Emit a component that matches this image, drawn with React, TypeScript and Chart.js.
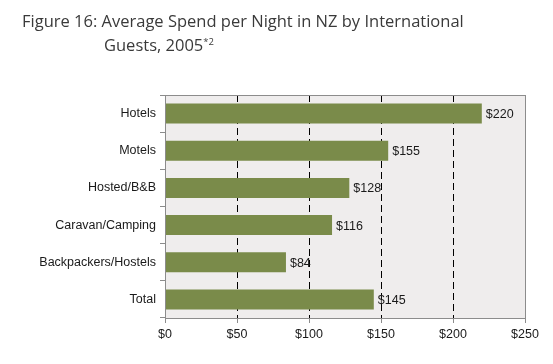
import React, { useEffect, useRef } from "react";
import { Chart, registerables } from "chart.js";

Chart.register(...registerables);

const categories = ["Hotels", "Motels", "Hosted/B&B", "Caravan/Camping", "Backpackers/Hostels", "Total"];
const spend = [220, 155, 128, 116, 84, 145];
const xTicks = [0, 50, 100, 150, 200, 250];

const titleLine1 = "Figure 16: Average Spend per Night in NZ by International";
const titleLine2 = "Guests, 2005";
const titleSup = "*2";

const PLOT_BG = "#EFEDED";
const BAR = "#7A8B4A";
const BORDER = "#8C8C8C";
const FONT = "'Liberation Sans', Arial, sans-serif";

export default function App() {
  const ref = useRef<HTMLCanvasElement | null>(null);

  useEffect(() => {
    if (!ref.current) return;
    const plotBg = {
      id: "plotBg",
      beforeDraw(chart: any) {
        const { ctx, chartArea: a } = chart;
        ctx.save();
        ctx.fillStyle = PLOT_BG;
        ctx.fillRect(a.left, a.top, a.right - a.left, a.bottom - a.top);
        ctx.restore();
      },
      afterDraw(chart: any) {
        const { ctx, chartArea: a } = chart;
        ctx.save();
        ctx.strokeStyle = BORDER;
        ctx.lineWidth = 1;
        ctx.setLineDash([]);
        ctx.strokeRect(Math.round(a.left) + 0.5, Math.round(a.top) + 0.5, Math.round(a.right - a.left), Math.round(a.bottom - a.top));
        ctx.restore();
      },
    };
    const labels = {
      id: "valLabels",
      afterDatasetsDraw(chart: any) {
        const { ctx } = chart;
        const meta = chart.getDatasetMeta(0);
        ctx.save();
        ctx.font = "12.5px " + FONT;
        ctx.fillStyle = "#1a1a1a";
        ctx.textAlign = "left";
        ctx.textBaseline = "middle";
        meta.data.forEach((el: any, i: number) => {
          ctx.fillText("$" + spend[i], el.x + 4, el.y + 1);
        });
        ctx.restore();
      },
    };
    const chart = new Chart(ref.current, {
      type: "bar",
      data: {
        labels: categories,
        datasets: [
          {
            data: spend,
            backgroundColor: BAR,
            borderWidth: 0,
            barPercentage: 0.54,
            categoryPercentage: 1,
          },
        ],
      },
      options: {
        indexAxis: "y",
        responsive: false,
        animation: false,
        layout: { padding: { left: 0, right: 28, top: 95, bottom: 0 } },
        plugins: { legend: { display: false }, tooltip: { enabled: false }, title: { display: false } },
        scales: {
          x: {
            min: 0,
            max: 250,
            afterBuildTicks(s: any) {
              s.ticks = xTicks.map((v) => ({ value: v }));
            },
            afterFit(s: any) {
              s.height = 46;
            },
            ticks: {
              color: "#1a1a1a",
              font: { family: FONT, size: 12.5 },
              padding: 4,
              maxRotation: 0,
              callback: (v: any) => "$" + v,
            },
            grid: {
              color: (c: any) => (c.tick && (c.tick.value === 0 || c.tick.value === 250) ? "rgba(0,0,0,0)" : "#000"),
              tickColor: BORDER,
              tickBorderDash: [],
              tickLength: 5,
              lineWidth: 1,
            },
            border: { display: true, color: BORDER, dash: [7, 4] },
          },
          y: {
            afterFit(s: any) {
              s.width = 165;
            },
            ticks: {
              color: "#1a1a1a",
              font: { family: FONT, size: 12.5 },
              padding: 4,
            },
            grid: {
              drawOnChartArea: false,
              offset: true,
              tickLength: 5,
              color: BORDER,
            },
            border: { display: true, color: BORDER },
          },
        },
      },
      plugins: [plotBg, labels],
    } as any);
    return () => chart.destroy();
  }, []);

  const titleStyle: React.CSSProperties = {
    position: "absolute",
    fontFamily: "'Open Sans', 'DejaVu Sans', sans-serif",
    fontSize: 16.5,
    color: "#3a3a3a",
    whiteSpace: "nowrap",
    lineHeight: "20px",
  };

  return (
    <div style={{ position: "fixed", left: 0, top: 0, width: 553, height: 364, background: "#fff" }}>
      <canvas ref={ref} width={553} height={364} style={{ position: "absolute", left: 0, top: 0 }} />
      <div style={{ ...titleStyle, left: 22, top: 11 }}>{titleLine1}</div>
      <div style={{ ...titleStyle, left: 104, top: 35 }}>
        {titleLine2}
        <sup style={{ fontSize: 9.5, verticalAlign: "top", position: "relative", top: -3 }}>{titleSup}</sup>
      </div>
    </div>
  );
}
